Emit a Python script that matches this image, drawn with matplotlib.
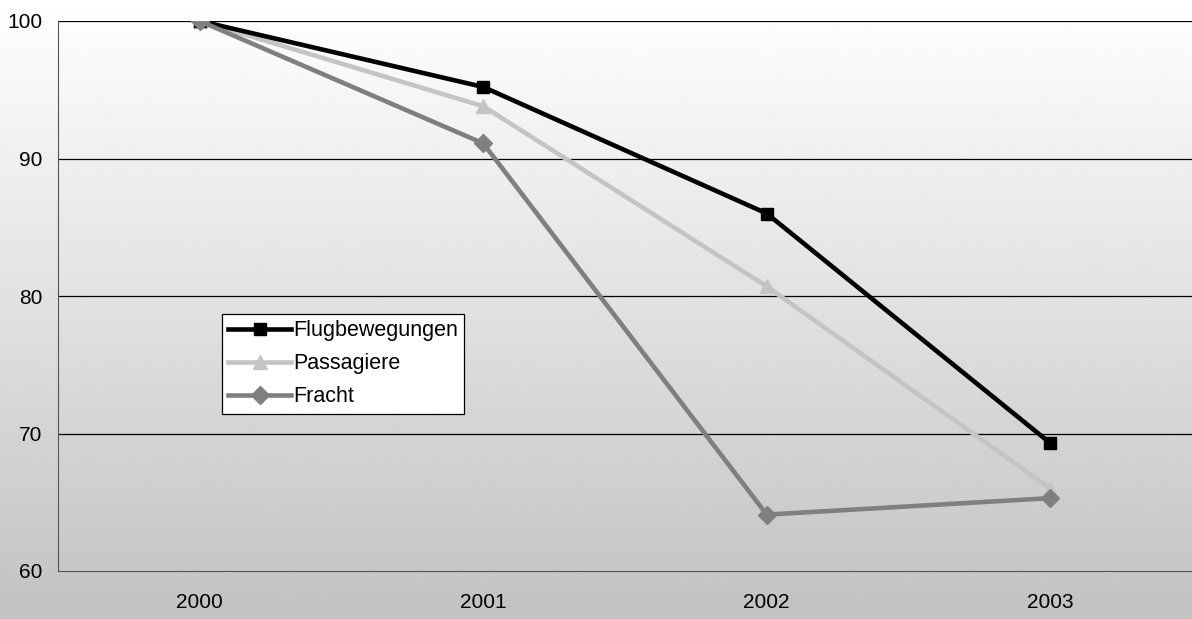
import matplotlib.pyplot as plt
import numpy as np

plt.rcParams['font.family'] = ['Liberation Sans', 'DejaVu Sans']

years = ['2000', '2001', '2002', '2003']
flugbewegungen = [100, 95.2, 86.0, 69.3]
passagiere = [100, 93.8, 80.7, 66.0]
fracht = [100, 91.1, 64.1, 65.3]
y_ticks = [60, 70, 80, 90, 100]

fig = plt.figure(figsize=(11.92, 6.19), dpi=100)

# gradient background over the whole figure
bg = fig.add_axes([0, 0, 1, 1], zorder=0)
grad = np.linspace(1.0, 0.76, 256).reshape(-1, 1)
bg.imshow(grad, aspect='auto', cmap='gray', vmin=0, vmax=1, extent=[0, 1, 0, 1])
bg.axis('off')

ax = fig.add_axes([58 / 1192, 1 - 571 / 619, 1 - 58 / 1192, (571 - 21) / 619], zorder=1)
ax.set_facecolor('none')

x = np.arange(len(years))
ax.plot(x, flugbewegungen, color='black', lw=3.3, marker='s', ms=9, label='Flugbewegungen', zorder=5)
ax.plot(x, passagiere, color='#c4c4c4', lw=3.3, marker='^', ms=10, label='Passagiere', zorder=4)
ax.plot(x, fracht, color='#7f7f7f', lw=3.3, marker='D', ms=9, label='Fracht', zorder=6)

ax.set_xlim(-0.5, 3.5)
ax.set_ylim(60, 100)
ax.set_yticks(y_ticks)
ax.set_xticks(x)
ax.set_xticklabels(years)
ax.tick_params(length=0, labelsize=15)
ax.tick_params(axis='x', pad=16)
ax.tick_params(axis='y', pad=11)
for v in y_ticks[1:]:
    ax.axhline(v, color='black', lw=0.9, zorder=2)
ax.spines['top'].set_visible(False)
ax.spines['right'].set_visible(False)
ax.spines['left'].set_color('#555555')
ax.spines['bottom'].set_color('#555555')

leg = ax.legend(loc='upper left', bbox_to_anchor=(222 / 1192, 1 - 314 / 619),
                bbox_transform=fig.transFigure, borderaxespad=0, fontsize=15.5,
                fancybox=False, framealpha=1, edgecolor='black', handlelength=2.9,
                handletextpad=0.1, labelspacing=0.55, borderpad=0.3)
leg.get_frame().set_linewidth(0.9)

fig.savefig('out.png', dpi=100)
